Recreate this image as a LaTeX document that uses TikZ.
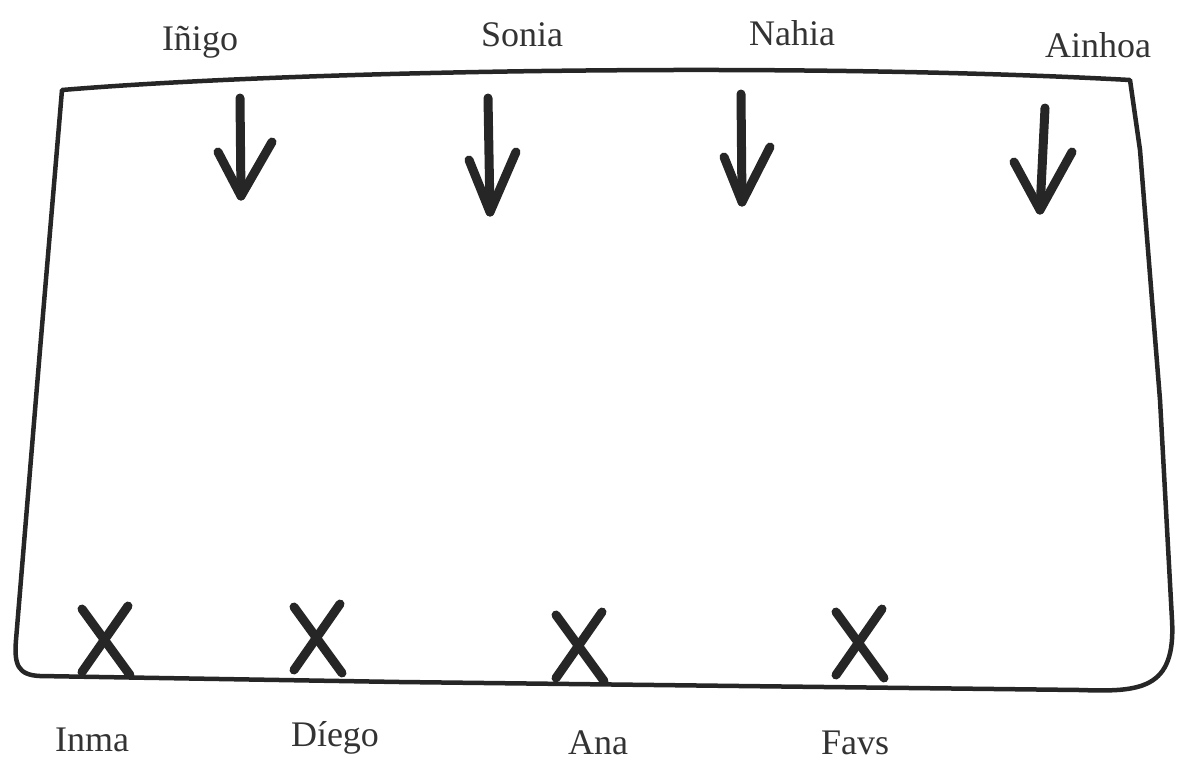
\documentclass[tikz,border=0pt]{standalone}
\usepackage{fontspec}
\setmainfont{Liberation Serif}
\tikzset{
  ink/.style={draw=black!85, line width=4.5pt, line cap=round, line join=round},
  boldink/.style={draw=black!85, line width=9pt, line cap=round, line join=round},
  name label/.style={font=\fontsize{36}{38}\selectfont, text=black!80, inner sep=0pt}
}
\begin{document}
\begin{tikzpicture}[x=1pt,y=-1pt]
\useasboundingbox (0,0) rectangle (1193,764);
% box
\draw[ink] (62,90) .. controls (300,70) and (800,62) .. (1130,80)
  -- (1140,150) -- (1160,400) -- (1172,620)
  .. controls (1176,690) and (1140,692) .. (1080,690)
  -- (400,682) -- (40,676)
  .. controls (18,675) and (14,665) .. (16,640)
  -- (40,350) -- cycle;
% top labels
\node[name label] (inigo) at (200,42) {Iñigo};
\node[name label] (sonia) at (522,35) {Sonia};
\node[name label] (nahia) at (792,33) {Nahia};
\node[name label] (ainhoa) at (1098,45) {Ainhoa};
% arrows
\foreach \n/\sx/\sy/\ex/\ey/\lx/\ly/\rx/\ry in {
  a/240/98/241/196/218/152/272/142,
  b/488/98/490/212/469/160/516/152,
  c/741/94/742/202/724/157/770/147,
  d/1045/108/1040/210/1014/162/1072/152}{
  \coordinate (\n s) at (\sx,\sy);
  \coordinate (\n t) at (\ex,\ey);
  \coordinate (\n l) at (\lx,\ly);
  \coordinate (\n r) at (\rx,\ry);
  \draw[boldink] (\n s) -- (\n t);
  \draw[boldink] (\n l) -- (\n t) -- (\n r);
}
% X marks
\foreach \n/\cx/\cy in {x1/106/642, x2/318/640, x3/580/648, x4/860/645}{
  \coordinate (\n a) at (\cx-24,\cy-33);
  \coordinate (\n b) at (\cx+24,\cy+33);
  \coordinate (\n c) at (\cx+22,\cy-36);
  \coordinate (\n d) at (\cx-24,\cy+30);
  \draw[boldink] (\n a) -- (\n b);
  \draw[boldink] (\n c) -- (\n d);
}
% bottom labels
\node[name label] (inma) at (92,740) {Inma};
\node[name label] (diego) at (335,738) {Díego};
\node[name label] (ana) at (598,743) {Ana};
\node[name label] (favs) at (855,743) {Favs};
\end{tikzpicture}
\end{document}
